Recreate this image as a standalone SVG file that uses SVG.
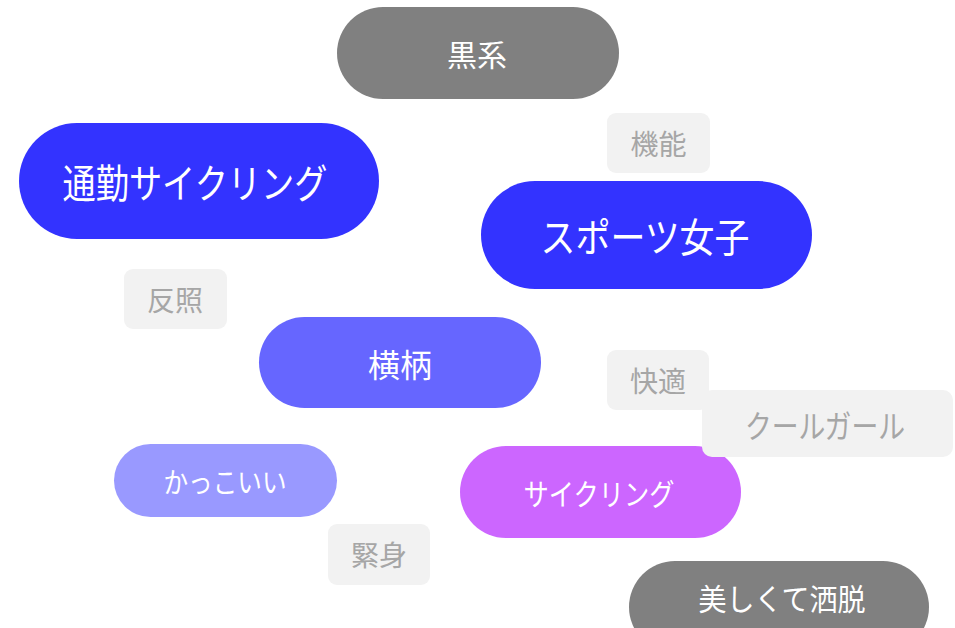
<svg xmlns="http://www.w3.org/2000/svg" width="955" height="628" viewBox="0 0 955 628">
<style>
text{font-family:"Noto Sans CJK JP","Noto Sans",sans-serif;text-anchor:middle;dominant-baseline:central;}
.w{fill:#FFFFFF;}
.g{fill:#A6A6A6;}
.tag{fill:#F2F2F2;}
</style>
<rect width="955" height="628" fill="#FFFFFF"/>
<g id="kinou">
<rect class="tag" x="607" y="113" width="103" height="60" rx="9"/>
<text class="g" x="658.5" y="143" font-size="28">機能</text>
</g>
<g id="hansho">
<rect class="tag" x="124" y="269" width="103" height="60" rx="9"/>
<text class="g" x="175" y="299" font-size="28">反照</text>
</g>
<g id="kaiteki">
<rect class="tag" x="607" y="350" width="102" height="60" rx="9"/>
<text class="g" x="658" y="380" font-size="28">快適</text>
</g>
<g id="kinshin">
<rect class="tag" x="328" y="524" width="102" height="61" rx="9"/>
<text class="g" x="379" y="554" font-size="28">緊身</text>
</g>
<g id="kurokei">
<rect x="337" y="7" width="282" height="92" rx="46" fill="#808080"/>
<text class="w" x="477" y="53" font-size="30">黒系</text>
</g>
<g id="tsukin">
<rect x="19" y="123" width="360" height="116" rx="58" fill="#3333FF"/>
<text class="w" x="195" y="181" font-size="40" textLength="265" lengthAdjust="spacingAndGlyphs">通勤サイクリング</text>
</g>
<g id="sports">
<rect x="481" y="181" width="331" height="108" rx="54" fill="#3333FF"/>
<text class="w" x="645" y="235" font-size="40" textLength="209" lengthAdjust="spacingAndGlyphs">スポーツ女子</text>
</g>
<g id="yokogara">
<rect x="259" y="317" width="282" height="91" rx="45.5" fill="#6666FF"/>
<text class="w" x="400" y="363" font-size="32">横柄</text>
</g>
<g id="kakkoii">
<rect x="114" y="444" width="223" height="73" rx="36.5" fill="#9999FF"/>
<text class="w" x="225" y="480.5" font-size="28" textLength="123" lengthAdjust="spacingAndGlyphs">かっこいい</text>
</g>
<g id="cycling">
<rect x="460" y="446" width="281" height="92" rx="46" fill="#CC66FF"/>
<text class="w" x="599" y="492" font-size="30" textLength="151" lengthAdjust="spacingAndGlyphs">サイクリング</text>
</g>
<g id="coolgirl">
<rect class="tag" x="702" y="390" width="251" height="67" rx="10"/>
<text class="g" x="825" y="424" font-size="32" textLength="160" lengthAdjust="spacingAndGlyphs">クールガール</text>
</g>
<g id="utsukushiku">
<rect x="629" y="561" width="300" height="92" rx="46" fill="#808080"/>
<text class="w" x="782" y="597" font-size="30" textLength="167" lengthAdjust="spacingAndGlyphs">美しくて洒脱</text>
</g>
<g id="connectors"></g>
</svg>
